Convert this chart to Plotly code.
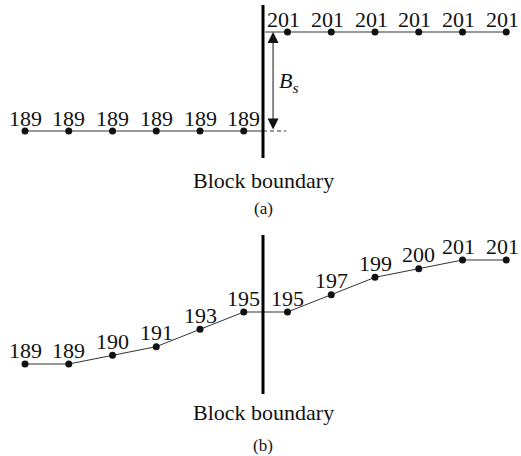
import plotly.graph_objects as go

# ---- data ----
positions = list(range(12))
values_a = [189, 189, 189, 189, 189, 189, 201, 201, 201, 201, 201, 201]
values_b = [189, 189, 190, 191, 193, 195, 195, 197, 199, 200, 201, 201]
labels_a = [str(v) for v in values_a]
labels_b = [str(v) for v in values_b]
boundary_x = 5.44
caption_main = "Block boundary"
caption_a = "(a)"
caption_b = "(b)"
step_label = "<i>B</i><sub><i>s</i></sub>"

W, H = 521, 456
FONT = "Liberation Serif"
INK = "#111111"

fig = go.Figure()

left_a_x = positions[:6]
left_a_y = values_a[:6]
right_a_x = positions[6:]
right_a_y = values_a[6:]

# panel (a) lines
fig.add_trace(go.Scatter(x=[left_a_x[0], boundary_x], y=[left_a_y[0], left_a_y[-1]],
                         mode="lines", line=dict(color="#333", width=1), yaxis="y", hoverinfo="skip"))
fig.add_trace(go.Scatter(x=[boundary_x, 5.97], y=[left_a_y[-1], left_a_y[-1]],
                         mode="lines", line=dict(color="#333", width=1, dash="4px,3px"), yaxis="y", hoverinfo="skip"))
fig.add_trace(go.Scatter(x=[boundary_x + 0.05, right_a_x[-1]], y=[right_a_y[0], right_a_y[-1]],
                         mode="lines", line=dict(color="#333", width=1), yaxis="y", hoverinfo="skip"))
fig.add_trace(go.Scatter(x=positions, y=values_a, mode="markers",
                         marker=dict(color=INK, size=7), yaxis="y", hoverinfo="skip"))

# panel (b)
fig.add_trace(go.Scatter(x=positions, y=values_b, mode="lines+markers",
                         line=dict(color="#333", width=1),
                         marker=dict(color=INK, size=7), yaxis="y2", hoverinfo="skip"))

def label_shift(t):
    return -4 if t.endswith("1") and t != "191" else 0

annotations = []
for x, y, t in zip(positions, values_a, labels_a):
    annotations.append(dict(x=x, y=y, xref="x", yref="y", text=t, showarrow=False,
                            xshift=label_shift(t), yshift=13,
                            font=dict(family=FONT, size=22, color=INK)))
for x, y, t in zip(positions, values_b, labels_b):
    annotations.append(dict(x=x, y=y, xref="x", yref="y2", text=t, showarrow=False,
                            xshift=label_shift(t), yshift=14,
                            font=dict(family=FONT, size=22, color=INK)))

# double arrow B_s
arrow_x = 5.67
annotations.append(dict(x=arrow_x, y=values_a[-1], ax=arrow_x, ay=values_a[0],
                        xref="x", yref="y", axref="x", ayref="y", text="",
                        showarrow=True, arrowhead=2, arrowside="end+start",
                        arrowsize=2.2, arrowwidth=1, arrowcolor=INK, standoff=0, startstandoff=0))
annotations.append(dict(x=arrow_x, y=(values_a[0] + values_a[-1]) / 2, xref="x", yref="y",
                        text=step_label, showarrow=False, xanchor="left", xshift=4,
                        font=dict(family=FONT, size=22, color=INK)))

for txt, ypix, size in [(caption_main, 180, 22), (caption_a, 208, 17),
                        (caption_main, 412, 22), (caption_b, 445, 17)]:
    annotations.append(dict(x=263 / W, y=1 - ypix / H, xref="paper", yref="paper", text=txt,
                            showarrow=False, xanchor="center", yanchor="middle",
                            font=dict(family=FONT, size=size, color=INK)))

shapes = [
    dict(type="line", xref="x", yref="paper", x0=boundary_x, x1=boundary_x,
         y0=1 - 5 / H, y1=1 - 158 / H, line=dict(color="black", width=3)),
    dict(type="line", xref="x", yref="paper", x0=boundary_x, x1=boundary_x,
         y0=1 - 235 / H, y1=1 - 394 / H, line=dict(color="black", width=3)),
]

xr = [-25 / 43.75, (W - 25) / 43.75]
ya = [189 - (H - 131) / 8.25, 189 + 131 / 8.25]
yb = [189 - (H - 364) / 8.667, 189 + 364 / 8.667]

fig.update_layout(
    width=W, height=H, margin=dict(l=0, r=0, t=0, b=0),
    paper_bgcolor="white", plot_bgcolor="white", showlegend=False,
    xaxis=dict(range=xr, visible=False, domain=[0, 1]),
    yaxis=dict(range=ya, visible=False, domain=[0, 1]),
    yaxis2=dict(range=yb, visible=False, overlaying="y", domain=[0, 1]),
    annotations=annotations, shapes=shapes,
)

fig.write_html("out.html", config={"displayModeBar": False},
               post_script="document.body.style.margin='0';document.body.style.padding='0';document.body.style.overflow='hidden';")
